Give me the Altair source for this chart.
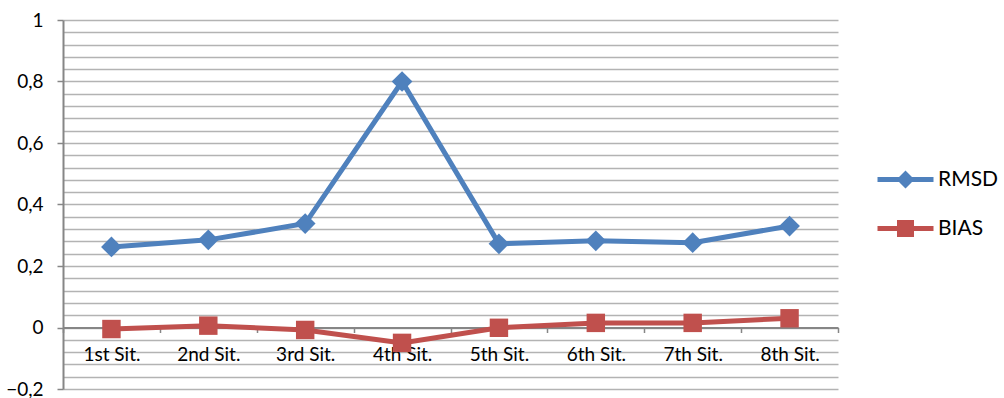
import altair as alt
import pandas as pd

categories = ["1st Sit.", "2nd Sit.", "3rd Sit.", "4th Sit.", "5th Sit.", "6th Sit.", "7th Sit.", "8th Sit."]
rmsd = [0.262, 0.285, 0.338, 0.800, 0.272, 0.282, 0.276, 0.330]
bias = [-0.005, 0.006, -0.008, -0.050, -0.001, 0.015, 0.015, 0.030]
series_names = ["RMSD", "BIAS"]
series_colors = ["#4F81BD", "#C0504D"]
y_ticks = [round(-0.2 + 0.04 * i, 2) for i in range(31)]

rows = []
for name, vals in zip(series_names, [rmsd, bias]):
    for c, v in zip(categories, vals):
        rows.append({"cat": c, "series": name, "value": v})
df = pd.DataFrame(rows)

FONT = "Lato"
W, H = 775, 369

x_enc = alt.X(
    "cat:N",
    sort=categories,
    scale=alt.Scale(type="band", paddingInner=0, paddingOuter=0),
    axis=alt.Axis(
        title=None, labelAngle=0, tickBand="extent", offset=-61.5,
        domainColor="#868686", domainWidth=2, tickColor="#868686", tickWidth=1.5,
        tickSize=5, labelPadding=13, labelFontSize=19, labelColor="#000000",
        labelFont=FONT, grid=False,
    ),
)
is_major = "abs(datum.value*5 - round(datum.value*5)) < 0.000001"
y_enc = alt.Y(
    "value:Q",
    scale=alt.Scale(domain=[-0.2, 1], nice=False, zero=False),
    axis=alt.Axis(
        title=None, values=y_ticks, grid=True, gridColor="#b3b3b3", gridWidth=1.5,
        domainColor="#868686", domainWidth=2, tickColor="#868686", tickWidth=1.5,
        tickSize=6,
        tickOpacity={"condition": {"test": is_major, "value": 1}, "value": 0},
        labelExpr=f"({is_major}) ? replace(format(datum.value, '.1~f'), '.', ',') : ''",
        labelPadding=14, labelFontSize=19, labelColor="#000000", labelFont=FONT,
    ),
)
color_scale = alt.Scale(domain=series_names, range=series_colors)

base = alt.Chart(df).encode(x=x_enc, y=y_enc)

diamond_path = "M-2.8,-0.25 L-0.65,-0.25 L0,-0.9 L0.65,-0.25 L2.8,-0.25 L2.8,0.25 L0.65,0.25 L0,0.9 L-0.65,0.25 L-2.8,0.25 Z"
square_path = "M-2.8,-0.25 L-0.85,-0.25 L-0.85,-0.85 L0.85,-0.85 L0.85,-0.25 L2.8,-0.25 L2.8,0.25 L0.85,0.25 L0.85,0.85 L-0.85,0.85 L-0.85,0.25 L-2.8,0.25 Z"

legend_props = dict(
    title=None, orient="none", legendX=832, legendY=149,
    symbolSize=400, symbolStrokeWidth=0, labelOffset=22, rowPadding=27,
    labelFontSize=21, labelFont=FONT, labelColor="#000000", padding=0,
)

# legend-only layer (first, so its legend settings win); it draws no marks
legend_layer = base.transform_filter("false").mark_point(filled=True, opacity=1, size=400).encode(
    color=alt.Color("series:N", scale=color_scale, legend=alt.Legend(**legend_props)),
    shape=alt.Shape(
        "series:N",
        scale=alt.Scale(domain=series_names, range=[diamond_path, square_path]),
        legend=alt.Legend(**legend_props),
    ),
)

lines = base.mark_line(strokeWidth=5).encode(
    color=alt.Color("series:N", scale=color_scale),
    detail="series:N",
)
pts_rmsd = base.transform_filter("datum.series == 'RMSD'").mark_point(
    shape="diamond", size=430, filled=True, opacity=1
).encode(color=alt.Color("series:N", scale=color_scale))
pts_bias = base.transform_filter("datum.series == 'BIAS'").mark_point(
    shape="square", size=340, filled=True, opacity=1
).encode(color=alt.Color("series:N", scale=color_scale))

chart = alt.layer(legend_layer, lines, pts_rmsd, pts_bias).properties(
    width=W, height=H,
    autosize=alt.AutoSizeParams(type="none"),
    padding={"left": 63, "top": 20, "right": 166, "bottom": 9},
    background="#ffffff",
).configure_view(stroke=None)

chart.save("out.html", embed_options={"renderer": "svg", "actions": False})
